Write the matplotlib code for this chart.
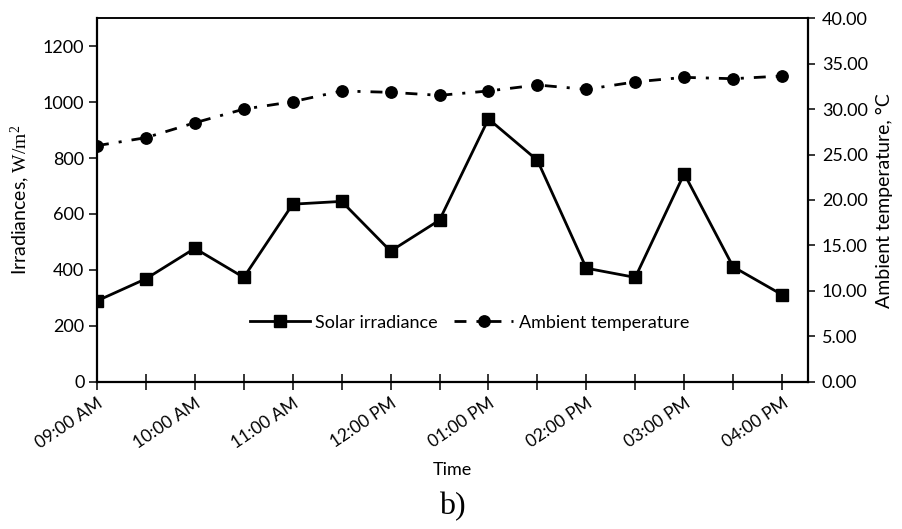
import matplotlib
matplotlib.use("Agg")
from matplotlib import pyplot as plt

## half-hourly readings, 09:00 AM to 04:00 PM
time_labels = ["09:00 AM", "", "10:00 AM", "", "11:00 AM", "", "12:00 PM", "",
               "01:00 PM", "", "02:00 PM", "", "03:00 PM", "", "04:00 PM"]
irradiance = [289, 368, 477, 373, 635, 645, 467, 578, 940, 792, 406, 373, 744, 411, 311]
ambient_temp = [25.98, 26.86, 28.50, 30.00, 30.82, 32.00, 31.85, 31.52,
                32.00, 32.66, 32.18, 33.00, 33.50, 33.35, 33.65]

plt.rcParams['font.family'] = ['Lato', 'DejaVu Sans']
plt.rcParams['mathtext.fontset'] = 'custom'
plt.rcParams['mathtext.rm'] = 'Liberation Serif'

fig = plt.figure(figsize=(9.02, 5.29), dpi=100)
ax = fig.add_axes([0.1075, 0.2785, 0.7883, 0.6869])
ax2 = ax.twinx()

x = list(range(len(irradiance)))

l1, = ax.plot(x, irradiance, color='black', lw=2, marker='s', ms=8.3,
              label='Solar irradiance', zorder=3)
l2, = ax2.plot(x, ambient_temp, color='black', lw=2, marker='o', ms=8.2,
               linestyle=(0, (4.3, 3.6, 1.1, 3.6)), dash_capstyle='butt',
               label='Ambient temperature', zorder=3)

ax.set_xlim(0, 14.53)
ax.set_ylim(0, 1300)
ax2.set_ylim(0, 40)

ax.set_xticks(x)
ax.set_xticklabels(time_labels, rotation=34, ha='right', va='top',
                   rotation_mode='anchor', fontsize=12.5)
ax.set_yticks(range(0, 1201, 200))
ax2.set_yticks(range(0, 41, 5))
ax2.set_yticklabels(["%.2f" % v for v in range(0, 41, 5)])

ax.tick_params(axis='x', direction='inout', length=11, width=1.1, pad=4)
ax.tick_params(axis='y', direction='out', length=6, width=1.1, labelsize=13, pad=3)
ax2.tick_params(axis='y', direction='out', length=5, width=1.1, labelsize=13, pad=5)

for a in (ax, ax2):
    for s in a.spines.values():
        s.set_linewidth(1.1)
ax.spines['left'].set_linewidth(1.6)
ax.spines['bottom'].set_linewidth(1.6)
ax2.spines['right'].set_linewidth(1.6)

fig.text(0.022, 0.622, r"Irradiances, $\mathrm{W/m^2}$", rotation=90,
         ha='center', va='center', fontsize=14)
fig.text(0.981, 0.620, "Ambient temperature, °C", rotation=90,
         ha='center', va='center', fontsize=14)
fig.text(0.501, 0.112, "Time", ha='center', va='center', fontsize=13)
fig.text(0.501, 0.042, "b)", ha='center', va='center', fontsize=23,
         family='Liberation Serif')

ax.legend(handles=[l1, l2], loc='center', bbox_to_anchor=(0.524, 0.162),
          ncol=2, frameon=False, fontsize=13, handlelength=3.3,
          handletextpad=0.3, columnspacing=0.9)

fig.savefig("out.png", dpi=100)
